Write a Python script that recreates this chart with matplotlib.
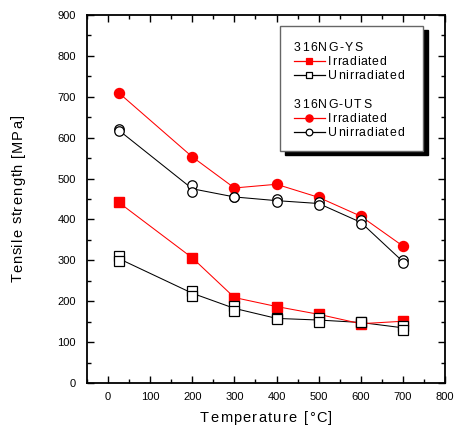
import matplotlib
matplotlib.use("Agg")
import matplotlib.pyplot as plt
from matplotlib.lines import Line2D
from matplotlib.patches import Rectangle
from matplotlib.transforms import Affine2D
from matplotlib.font_manager import FontProperties, findfont, get_font
import numpy as np

plt.rcParams['font.family'] = ['Liberation Sans', 'DejaVu Sans']

# test temperatures [C]
temp = [25, 200, 300, 400, 500, 600, 700]

# yield strength [MPa]
ys_irr = [442, 306, 209, 187, 168, 145, 151]
ys_unirr_a = [310, 226, 188, 160, 160, 148, 140]
ys_unirr_b = [299, 213, 177, 156, 148, 148, 130]

# ultimate tensile strength [MPa]
uts_irr = [710, 553, 477, 486, 454, 408, 335]
uts_unirr_a = [620, 484, 455, 449, 443, 398, 301]
uts_unirr_b = [617, 466, 455, 443, 435, 388, 293]

W, H, DPI = 455, 428, 100
fig = plt.figure(figsize=(W / DPI, H / DPI), dpi=DPI)
ax = fig.add_axes([87 / W, 45 / H, 358 / W, 368 / H])
# pixel coords measured from the top-left corner of the image
pix = Affine2D().scale(1 / W, -1 / H).translate(0, 1) + fig.transFigure

_font = get_font(findfont(FontProperties(family='Liberation Sans')))


def tracked(s, x, y, size, width, center=True, vertical=False, z=10):
    # letter-spaced text, stretched to a given width in pixels
    _font.set_size(size, 72)
    adv = [_font.load_char(ord(c)).linearHoriAdvance / 65536 * DPI / 72 for c in s]
    track = (width - sum(adv)) / (len(s) - 1)
    total = sum(adv) + track * (len(s) - 1)
    if not vertical:
        pos = x - total / 2 if center else x
        for c, a in zip(s, adv):
            fig.text(pos, y, c, transform=pix, fontsize=size, ha='left',
                     va='baseline', zorder=z)
            pos += a + track
    else:
        pos = y + total / 2
        for c, a in zip(s, adv):
            fig.text(x, pos, c, transform=pix, fontsize=size, ha='left',
                     va='baseline', rotation=90, rotation_mode='anchor', zorder=z)
            pos -= a + track


red = '#ff0000'
# yield strength
ax.plot(temp, ys_irr, '-', color=red, lw=0.75, marker='s', ms=7,
        mfc=red, mec=red, zorder=3)
ys_mean = (np.array(ys_unirr_a) + np.array(ys_unirr_b)) / 2
ax.plot(temp, ys_mean, '-', color='black', lw=0.75, zorder=2)
for s in (ys_unirr_a, ys_unirr_b):
    ax.plot(temp, s, ls='none', marker='s', ms=6.8, mfc='white', mec='black',
            mew=0.9, zorder=4)

# tensile strength
ax.plot(temp, uts_irr, '-', color=red, lw=0.75, marker='o', ms=7.2,
        mfc=red, mec=red, zorder=3)
uts_mean = (np.array(uts_unirr_a) + np.array(uts_unirr_b)) / 2
ax.plot(temp, uts_mean, '-', color='black', lw=0.75, zorder=2)
for s in (uts_unirr_a, uts_unirr_b):
    ax.plot(temp, s, ls='none', marker='o', ms=6.8, mfc='white', mec='black',
            mew=0.9, zorder=4)

ax.set_xlim(-50, 800)
ax.set_ylim(0, 900)
ax.set_xticks(range(0, 801, 100))
ax.set_yticks(range(0, 901, 100))
ax.set_xticks(range(-50, 800, 50), minor=True)
ax.set_yticks(range(50, 900, 100), minor=True)
ax.tick_params(which='both', direction='in', top=True, right=True,
               labelsize=8, width=1)
ax.tick_params(which='major', length=5)
ax.tick_params(axis='y', which='major', pad=8)
ax.tick_params(axis='x', which='major', pad=6.5)
ax.tick_params(which='minor', length=3)
for sp in ax.spines.values():
    sp.set_linewidth(1.3)

# axis titles
tracked('Temperature [°C]', 266, 422, 10.5, 132)
tracked('Tensile strength [MPa]', 22, 198.5, 10.5, 167, vertical=True)

# legend box with drop shadow
fig.add_artist(Rectangle((285, 30), 143, 125, transform=pix,
                         facecolor='black', edgecolor='black', zorder=5))
fig.add_artist(Rectangle((280, 26), 143, 125, transform=pix,
                         facecolor='white', edgecolor='#666666', lw=1, zorder=6))

rows = [
    ('316NG-YS', None, 51, 68),
    ('Irradiated', ('s', red, red, 5), 65, 58),
    ('Unirradiated', ('s', 'white', 'black', 4.6), 79, 76),
    ('316NG-UTS', None, 108, 77),
    ('Irradiated', ('o', red, red, 5.2), 122, 58),
    ('Unirradiated', ('o', 'white', 'black', 4.8), 136, 76),
]
for label, style, base, width in rows:
    if style is None:
        tracked(label, 294, base, 8.8, width, center=False)
        continue
    mk, fc, ec, ms = style
    yc = base - 4
    lc = red if fc == red else 'black'
    fig.add_artist(Line2D([294, 325], [yc, yc], transform=pix, lw=0.9,
                          color=lc, zorder=7))
    fig.add_artist(Line2D([309], [yc], transform=pix, ls='none', marker=mk,
                          ms=ms, mfc=fc, mec=ec, mew=0.9, zorder=8))
    tracked(label, 328, base, 8.8, width, center=False)

fig.savefig('out.png', dpi=DPI)
